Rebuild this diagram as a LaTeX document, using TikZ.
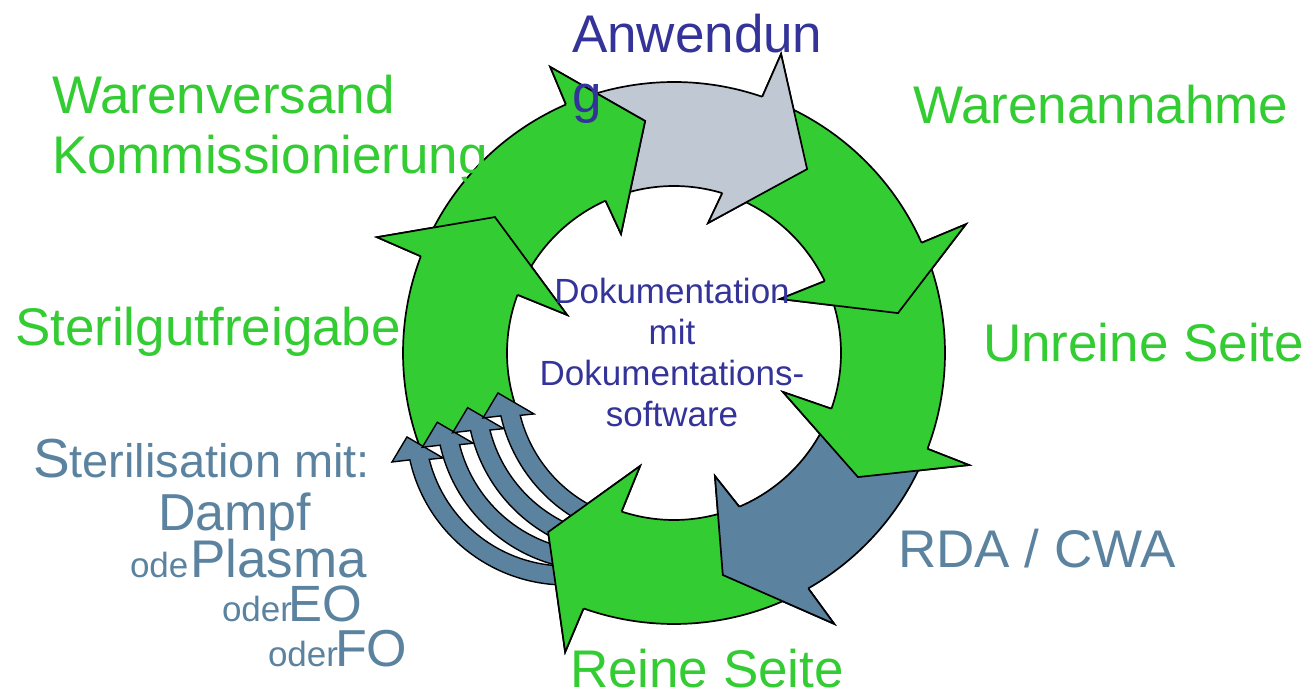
\documentclass[tikz,border=0pt]{standalone}
\usepackage{fontspec}
\setmainfont{Liberation Sans}
\definecolor{grn}{RGB}{51,204,51}
\definecolor{lgray}{RGB}{192,201,211}
\definecolor{slate}{RGB}{91,131,160}
\definecolor{dblue}{RGB}{51,51,153}
\tikzset{
  outl/.style={draw=black,line width=1.7pt,line join=miter,miter limit=10},
  outs/.style={draw=black,line width=1.4pt,line join=miter,miter limit=10},
  lbl/.style={inner sep=0pt,outer sep=0pt,font=\fontsize{53}{60}\selectfont},
  sml/.style={inner sep=0pt,outer sep=0pt,text=slate,anchor=base west},
}
% ring arrows: open outline (body + head), head only
\def\bodyA{(111:271) arc[start angle=111,end angle=71,radius=271] -- (70.3:317.6) -- (54.1:227) -- (75.3:134.4) -- (73.2:167) arc[start angle=73.2,end angle=111,radius=167]}
\def\headA{(71:271) -- (70.3:317.6) -- (54.1:227) -- (75.3:134.4) -- (73.2:167)}
\def\bodyB{(68:271) arc[start angle=68,end angle=24,radius=271] -- (23.8:319) -- (10.1:227.5) -- (27:119) -- (25.5:167) arc[start angle=25.5,end angle=68,radius=167]}
\def\headB{(24:271) -- (23.8:319) -- (10.1:227.5) -- (27:119) -- (25.5:167)}
\def\bodyC{(21:271) arc[start angle=21,end angle=-20.7,radius=271] -- (-20.8:315.5) -- (-34:221.9) -- (-19.7:115.8) -- (-19.5:167) arc[start angle=-19.5,end angle=21,radius=167]}
\def\headC{(-20.7:271) -- (-20.8:315.5) -- (-34:221.9) -- (-19.7:115.8) -- (-19.5:167)}
\def\bodyD{(-24:271) arc[start angle=-24,end angle=-60.3,radius=271] -- (-59.4:314.7) -- (-77.6:227.3) -- (-71.6:129.7) -- (-67:167) arc[start angle=-67,end angle=-24,radius=167]}
\def\headD{(-60.3:271) -- (-59.4:314.7) -- (-77.6:227.3) -- (-71.6:129.7) -- (-67:167)}
\def\bodyE{(-65.5:271) arc[start angle=-65.5,end angle=-109.5,radius=271] -- (-110:318.2) -- (-125.1:218.9) -- (-106.7:118) -- (-108.3:167) arc[start angle=-108.3,end angle=-71.5,radius=167]}
\def\headE{(-109.5:271) -- (-110:318.2) -- (-125.1:218.9) -- (-106.7:118) -- (-108.3:167)}
\def\bodyF{(201.3:271) arc[start angle=201.3,end angle=159.1,radius=271] -- (158.7:318.8) -- (142.8:224.8) -- (160.4:113.5) -- (159.6:167) arc[start angle=159.6,end angle=197,radius=167]}
\def\tailF{-- (-176,-44) -- (-188,-66) -- (-206,-59) -- (-218,-82) -- (-236,-74) -- (-247,-94)}
\def\headF{(159.1:271) -- (158.7:318.8) -- (142.8:224.8) -- (160.4:113.5) -- (159.6:167)}
\def\bodyG{(156:271) arc[start angle=156,end angle=113.5,radius=271] -- (113.4:311.7) -- (97.1:233.8) -- (114:130.3) -- (114.2:167) arc[start angle=114.2,end angle=156,radius=167]}
\def\headG{(113.5:271) -- (113.4:311.7) -- (97.1:233.8) -- (114:130.3) -- (114.2:167)}
\newcommand\ringarrow[2]{\fill[#1] #2 -- cycle; \draw[outl] #2;}
\newcommand\smallarw[2]{%
  \begin{scope}[shift={#1}]
    \fill[slate] (#2:160) arc[start angle=#2,end angle=192.6,radius=160] -- (192:177.9) -- (184.3:159.5) -- (195:127.3) -- (194.1:141) arc[start angle=194.1,end angle=#2,radius=141] -- cycle;
    \draw[outs] (#2:160) arc[start angle=#2,end angle=192.6,radius=160] -- (192:177.9) -- (184.3:159.5) -- (195:127.3) -- (194.1:141) arc[start angle=194.1,end angle=#2,radius=141];
  \end{scope}}
\begin{document}
\begin{tikzpicture}[x=1pt,y=1pt]
\useasboundingbox (0,0) rectangle (1309,694);
\begin{scope}[shift={(674,341)}]
  % stage 1: full arrows
  \ringarrow{lgray}{\bodyA}
  \ringarrow{grn}{\bodyB}
  \ringarrow{grn}{\bodyC}
  \ringarrow{slate}{\bodyD}
  \ringarrow{grn}{\bodyE}
  \fill[grn] \bodyF \tailF -- cycle;
  \draw[outl] \bodyF;
  \ringarrow{grn}{\bodyG}
  % small sterilisation arrows
  \smallarw{(-108,-72)}{270}
  \smallarw{(-77.7,-57.3)}{262}
  \smallarw{(-47.3,-42.7)}{255}
  \smallarw{(-17,-28)}{248}
  % stage 2: heads on top
  \ringarrow{lgray}{\headA}
  \ringarrow{grn}{\headB}
  \ringarrow{grn}{\headC}
  \ringarrow{slate}{\headD}
  \ringarrow{grn}{\headE}
  \ringarrow{grn}{\headF}
  \ringarrow{grn}{\headG}
\end{scope}
% labels
\node[lbl,text=dblue,anchor=north west,align=left] (anw) at (572,680) {Anwendun\\g};
\node[lbl,text=grn,anchor=north west,align=left] (wv) at (52,619) {Warenversand\\Kommissionierung};
\node[lbl,text=grn,anchor=base west] (wa) at (913,570) {Warenannahme};
\node[lbl,text=grn,anchor=base west] (sg) at (15,348) {Sterilgutfreigabe};
\node[lbl,text=grn,anchor=base west] (us) at (983,332) {Unreine Seite};
\node[lbl,text=slate,anchor=base west] (rda) at (898,127) {RDA / CWA};
\node[lbl,text=grn,anchor=base west] (rs) at (570,7) {Reine Seite};
\node[sml] (st) at (33,216) {\fontsize{55}{55}\selectfont S\fontsize{47}{47}\selectfont terilisation mit:};
\node[sml,font=\fontsize{52}{52}\selectfont] (da) at (158,164) {Dampf};
\node[sml,font=\fontsize{35}{35}\selectfont] (o1) at (130,117) {ode};
\node[sml,font=\fontsize{53}{53}\selectfont] (pl) at (190,117) {Plasma};
\node[sml,font=\fontsize{35}{35}\selectfont] (o2) at (222,73) {oder};
\node[sml,font=\fontsize{51}{51}\selectfont] (eo) at (288,73) {EO};
\node[sml,font=\fontsize{35}{35}\selectfont] (o3) at (268,28) {oder};
\node[sml,font=\fontsize{52}{52}\selectfont] (fo) at (335,28) {FO};
\node[inner sep=0pt,anchor=north,align=center,text=dblue,font=\fontsize{35}{41}\selectfont] (doc) at (672,416.5) {Dokumentation\\mit\\Dokumentations-\\software};
\end{tikzpicture}
\end{document}
